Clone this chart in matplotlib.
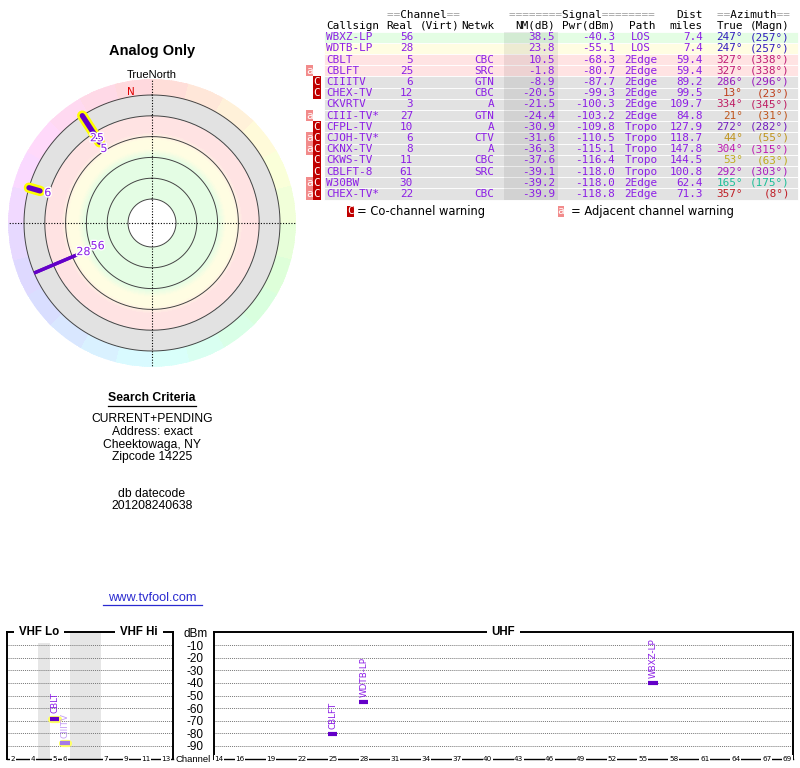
import colorsys

import numpy as np
import matplotlib
matplotlib.use("Agg")
import matplotlib.pyplot as plt
import matplotlib.patheffects as pe
from matplotlib.patches import Rectangle

# station list, sorted by noise margin
callsigns = ["WBXZ-LP", "WDTB-LP", "CBLT", "CBLFT", "CIIITV", "CHEX-TV", "CKVRTV",
             "CIII-TV*", "CFPL-TV", "CJOH-TV*", "CKNX-TV", "CKWS-TV", "CBLFT-8",
             "W30BW", "CHEX-TV*"]
channels = [56, 28, 5, 25, 6, 12, 3, 27, 10, 6, 8, 11, 61, 30, 22]
networks = ["", "", "CBC", "SRC", "GTN", "CBC", "A", "GTN", "A", "CTV", "A",
            "CBC", "SRC", "", "CBC"]
nm_db = [38.5, 23.8, 10.5, -1.8, -8.9, -20.5, -21.5, -24.4, -30.9, -31.6,
         -36.3, -37.6, -39.1, -39.2, -39.9]
pwr_dbm = [-40.3, -55.1, -68.3, -80.7, -87.7, -99.3, -100.3, -103.2, -109.8,
           -110.5, -115.1, -116.4, -118.0, -118.0, -118.8]
paths = ["LOS", "LOS", "2Edge", "2Edge", "2Edge", "2Edge", "2Edge", "2Edge",
         "Tropo", "Tropo", "Tropo", "Tropo", "Tropo", "2Edge", "2Edge"]
dist_miles = [7.4, 7.4, 59.4, 59.4, 89.2, 99.5, 109.7, 84.8, 127.9, 118.7,
              147.8, 144.5, 100.8, 62.4, 71.3]
az_true = [247, 247, 327, 327, 286, 13, 334, 21, 272, 44, 304, 53, 292, 165, 357]
az_magn = [257, 257, 338, 338, 296, 23, 345, 31, 282, 55, 315, 63, 303, 175, 8]
warnings = ["", "", "", "a", "C", "C", "", "a", "C", "aC", "aC", "C", "C", "aC", "aC"]

vhf_ticks = [2, 4, 5, 6, 7, 9, 11, 13]
uhf_ticks = [14, 16, 19, 22, 25, 28, 31, 34, 37, 40, 43, 46, 49, 52, 55, 58,
             61, 64, 67, 69]
dbm_ticks = [0, -10, -20, -30, -40, -50, -60, -70, -80, -90]
dbm_labels = ["dBm", "-10", "-20", "-30", "-40", "-50", "-60", "-70", "-80", "-90"]

criteria = ["CURRENT+PENDING", "Address: exact", "Cheektowaga, NY", "Zipcode 14225"]
datecode = ["db datecode", "201208240638"]

MONO = "DejaVu Sans Mono"
SANS = "Liberation Sans"
PURPLE = "#8c1ee6"
LINE_PURPLE = "#6400c8"
FADED = "#c39bf5"
GREEN, YELLOW, PINK, GRAY = "#e4fde4", "#fffde2", "#ffe3e3", "#e2e2e2"


def az_color(az, s=0.85, v=0.75):
    return colorsys.hsv_to_rgb((az % 360) / 360, s, v)


def row_color(v):
    if v >= 36:
        return GREEN
    if v >= 20:
        return YELLOW
    if v >= -5:
        return PINK
    return GRAY


fig = plt.figure(figsize=(8, 7.68), dpi=100)
fig.patch.set_facecolor("white")

# full-figure canvas in pixel units for the text blocks
cv = fig.add_axes([0, 0, 1, 1])
cv.set_xlim(0, 800)
cv.set_ylim(768, 0)
cv.axis("off")

# ---------------- station table ----------------
ROW0, ROW_H = 37.2, 11.2
n = len(callsigns)


def row_y(i):
    return ROW0 + i * ROW_H


for i in range(n):
    cv.add_patch(Rectangle((324, row_y(i) - ROW_H / 2), 474, ROW_H,
                           fc=row_color(nm_db[i]), ec="white", lw=0.6))
# darker NM column
cv.add_patch(Rectangle((504, row_y(0) - ROW_H / 2), 54, ROW_H * n,
                       fc="black", alpha=0.07, lw=0))

tk = dict(family=MONO, fontsize=7.9, va="center")
for word, xc in [("Channel", 423), ("Signal", 582), ("Azimuth", 753)]:
    pad = 8 if word == "Signal" else 2
    cv.text(xc, 14.7, "=" * pad + " " * len(word) + "=" * pad, ha="center",
            color="#a0a0a0", **tk)
    cv.text(xc, 14.7, " " * pad + word + " " * pad, ha="center", color="black", **tk)
cv.text(703, 14.7, "Dist", ha="right", color="black", **tk)
cv.text(326, 25.7, "Callsign", ha="left", color="black", **tk)
for lbl, xr in [("Real", 413), ("(Virt)", 459), ("Netwk", 494), ("NM(dB)", 555),
                ("Pwr(dBm)", 615), ("Path", 655), ("miles", 703), ("True", 743),
                ("(Magn)", 790)]:
    cv.text(xr, 25.7, lbl, ha="right", color="black", **tk)

for i in range(n):
    y = row_y(i)
    cv.text(326, y, callsigns[i], ha="left", color=PURPLE, **tk)
    cv.text(413, y, str(channels[i]), ha="right", color=PURPLE, **tk)
    cv.text(494, y, networks[i], ha="right", color=PURPLE, **tk)
    cv.text(555, y, f"{nm_db[i]:.1f}", ha="right", color=PURPLE, **tk)
    cv.text(615, y, f"{pwr_dbm[i]:.1f}", ha="right", color=PURPLE, **tk)
    cv.text(641, y, paths[i], ha="center", color=PURPLE, **tk)
    cv.text(703, y, f"{dist_miles[i]:.1f}", ha="right", color=PURPLE, **tk)
    cv.text(743, y, f"{az_true[i]}°", ha="right", color=az_color(az_true[i]), **tk)
    cv.text(790, y, f"({az_magn[i]}°)", ha="right", color=az_color(az_true[i]), **tk)
    # warning badges
    if "a" in warnings[i]:
        cv.add_patch(Rectangle((306, y - ROW_H / 2), 7, ROW_H, fc="#f28b8b", lw=0))
        cv.text(309.5, y, "a", ha="center", color="white", **tk)
    if "C" in warnings[i]:
        cv.add_patch(Rectangle((313, y - ROW_H / 2), 8, ROW_H, fc="#c00000", lw=0))
        cv.text(317, y, "C", ha="center", color="white", **tk)

# legend for warnings
cv.add_patch(Rectangle((347, 205.5), 7, 11, fc="#c00000", lw=0))
cv.text(350.5, 211, "C", ha="center", color="white", **tk)
cv.text(357, 211, "= Co-channel warning", ha="left", va="center",
        family="DejaVu Sans", fontsize=8.3)
cv.add_patch(Rectangle((558, 205.5), 6, 11, fc="#f28b8b", lw=0))
cv.text(561, 211, "a", ha="center", color="white", **tk)
cv.text(571, 211, "= Adjacent channel warning", ha="left", va="center",
        family="DejaVu Sans", fontsize=8.3)

# ---------------- left column text ----------------
cv.text(152, 51, "Analog Only", ha="center", va="center", family=SANS,
        fontweight="bold", fontsize=10.5)
cv.text(152, 75, "TrueNorth", ha="center", va="center", family=SANS, fontsize=8)
cv.text(152, 398, "Search Criteria", ha="center", va="center", family=SANS,
        fontweight="bold", fontsize=8.8)
cv.plot([108, 196], [405.5, 405.5], color="black", lw=0.9)
for k, line in enumerate(criteria):
    cv.text(152, 419.3 + 12.7 * k, line, ha="center", va="center", family=SANS,
            fontsize=8.7)
for k, line in enumerate(datecode):
    cv.text(152, 494 + 12.3 * k, line, ha="center", va="center", family=SANS,
            fontsize=8.7)
cv.text(152, 598, "www.tvfool.com", ha="center", va="center", family=SANS,
        fontsize=9.2, color="#2a2ad0")
cv.plot([103, 202], [605, 605], color="#2a2ad0", lw=0.9)

# ---------------- radar plot ----------------
R_OUT = 128          # radius (px) of NM = -20 dB
R_RIM = 144
NM_EDGE = -20
PX_PER_DB = 1.04
LINE_CAP_NM = 25


def radius(v):
    return R_OUT - (v - NM_EDGE) * PX_PER_DB


ax_p = fig.add_axes([8 / 800, (768 - 367) / 768, 288 / 800, 288 / 768],
                    projection="polar")
ax_p.set_theta_zero_location("N")
ax_p.set_theta_direction(-1)
ax_p.set_ylim(0, R_RIM)
ax_p.set_facecolor("none")
ax_p.grid(False)
ax_p.set_xticks([])
ax_p.set_yticks([])
ax_p.spines["polar"].set_visible(False)

# background: signal zones (soft blends) inside, hue rim outside
stops_nm = [-20, -0.01, 0, 16, 23, 32, 39, 80]
stops_col = [GRAY, GRAY, PINK, PINK, YELLOW, YELLOW, GREEN, GREEN]
stops_rgb = np.array([matplotlib.colors.to_rgb(c) for c in stops_col])
t_edges = np.deg2rad(np.arange(0, 361, 1.0))
r_edges = np.append(np.arange(radius(80), R_OUT + 0.01, 1.0), R_RIM)
colors = np.ones((len(r_edges) - 1, len(t_edges) - 1, 3))
for a in range(len(r_edges) - 1):
    rm = 0.5 * (r_edges[a] + r_edges[a + 1])
    if rm < R_OUT:
        v = NM_EDGE + (R_OUT - rm) / PX_PER_DB
        colors[a, :, :] = [np.interp(v, stops_nm, stops_rgb[:, j]) for j in range(3)]
    else:
        for b in range(len(t_edges) - 1):
            seg = (b // 15) * 15 + 7.5
            colors[a, b, :] = colorsys.hsv_to_rgb(seg / 360, 0.15, 1.0)
T, R = np.meshgrid(t_edges, r_edges)
ax_p.pcolormesh(T, R, colors, shading="flat", edgecolors="none",
                antialiased=False, zorder=0)

theta = np.linspace(0, 2 * np.pi, 361)
for v in [-20, 0, 20, 40, 60, 80]:
    ax_p.plot(theta, np.full_like(theta, radius(v)), color="#444444", lw=0.7)
for a in [0, 90, 180, 270]:
    ax_p.plot([np.deg2rad(a)] * 2, [0, R_RIM], color="black", lw=0.8,
              ls=(0, (1, 1.5)))
ax_p.text(np.deg2rad(351), 133, "N", ha="center", va="center", color="#e00000",
          family="DejaVu Sans", fontsize=7.5)

shown = [i for i in range(n) if nm_db[i] > NM_EDGE]
for i in shown:
    if channels[i] <= 6:
        th = np.deg2rad(az_true[i])
        ax_p.plot([th, th], [R_OUT, radius(min(nm_db[i], LINE_CAP_NM))],
                  color="#ffff00", lw=7.5, solid_capstyle="round", zorder=3)
for i in shown:
    th = np.deg2rad(az_true[i])
    hl = channels[i] <= 6
    ax_p.plot([th, th], [R_OUT, radius(min(nm_db[i], LINE_CAP_NM))],
              color=LINE_PURPLE, lw=3.8 if hl else 2.4,
              solid_capstyle="round" if hl else "butt", zorder=4)
for i in shown:
    th = np.deg2rad(az_true[i])
    ax_p.text(th, radius(nm_db[i]) - 8, str(channels[i]), ha="center", va="center",
              color=PURPLE, family="DejaVu Sans", fontsize=8, zorder=5,
              path_effects=[pe.withStroke(linewidth=2, foreground="white")])

# ---------------- spectrum ----------------
LO_GAP = 1.2   # 72-76 MHz
FM_GAP = 3.1   # FM / aircraft band


def vhf_pos(ch):
    pos = ch - 2
    if ch >= 5:
        pos += LO_GAP
    if ch >= 7:
        pos += FM_GAP
    return pos


y_bot, y_top = 758.6, 632.4
bottom = (768 - y_bot) / 768
height = (y_bot - y_top) / 768
ax_v = fig.add_axes([7 / 800, bottom, 166 / 800, height])
ax_u = fig.add_axes([214 / 800, bottom, 579 / 800, height])
ax_v.set_xlim(-0.6, 16.0)
ax_u.set_xlim(13.5, 69.55)

for ax in (ax_v, ax_u):
    ax.set_ylim(-100, 0)
    ax.set_xticks([])
    ax.set_yticks([])
    for s in ("top", "left", "right"):
        ax.spines[s].set_linewidth(1.4)
    ax.spines["bottom"].set_linewidth(1.0)
    for v in dbm_ticks[1:]:
        ax.axhline(v, color="#777777", lw=0.7, ls=(0, (1, 1)), zorder=1)

ax_v.axvspan(vhf_pos(4) + 0.5, vhf_pos(5) - 0.5, color="#e6e6e6", lw=0, zorder=0)
ax_v.axvspan(vhf_pos(6) + 0.5, vhf_pos(7) - 0.5, color="#e6e6e6", lw=0, zorder=0)

ax_u.set_yticks(dbm_ticks)
ax_u.set_yticklabels(dbm_labels, family=SANS, fontsize=8.5)
ax_u.tick_params(axis="y", length=0, pad=13.5)
for lbl in ax_u.get_yticklabels():
    lbl.set_ha("center")
cv.text(211, 759.5, "Channel", ha="right", va="center", family=SANS, fontsize=6.8)

box = dict(fc="white", ec="none", pad=0.4)
for ch in vhf_ticks:
    ax_v.text(vhf_pos(ch), -100, str(ch), ha="center", va="center", fontsize=5.2,
              family="DejaVu Sans", bbox=box, clip_on=False, zorder=6)
for ch in uhf_ticks:
    ax_u.text(ch, -100, str(ch), ha="center", va="center", fontsize=5.2,
              family="DejaVu Sans", bbox=box, clip_on=False, zorder=6)

title_box = dict(fc="white", ec="none", pad=3.5)
ax_v.text(0.193, 1.0, "VHF Lo", transform=ax_v.transAxes, ha="center", va="center",
          family=SANS, fontweight="bold", fontsize=8.3, bbox=title_box, zorder=6)
ax_v.text(0.795, 1.0, "VHF Hi", transform=ax_v.transAxes, ha="center", va="center",
          family=SANS, fontweight="bold", fontsize=8.3, bbox=title_box, zorder=6)
ax_u.text(0.5, 1.0, "UHF", transform=ax_u.transAxes, ha="center", va="center",
          family=SANS, fontweight="bold", fontsize=8.3, bbox=title_box, zorder=6)

for i in shown:
    ch = channels[i]
    ax, x = (ax_v, vhf_pos(ch)) if ch <= 13 else (ax_u, ch)
    p = pwr_dbm[i]
    faded = nm_db[i] < -5
    if ch <= 6:
        ax.plot([x - 0.35, x + 0.35], [p, p], color="#ffff66", lw=5.2,
                solid_capstyle="round", zorder=3)
    ax.plot([x - 0.45, x + 0.45], [p, p], color="#a67be8" if faded else LINE_PURPLE,
            lw=3, solid_capstyle="butt", zorder=4)
    ax.text(x, p + 4.3, callsigns[i], rotation=90, ha="center", va="bottom",
            color=FADED if faded else PURPLE, family="DejaVu Sans", fontsize=6.3,
            zorder=5)

fig.savefig("out.png", dpi=100)
